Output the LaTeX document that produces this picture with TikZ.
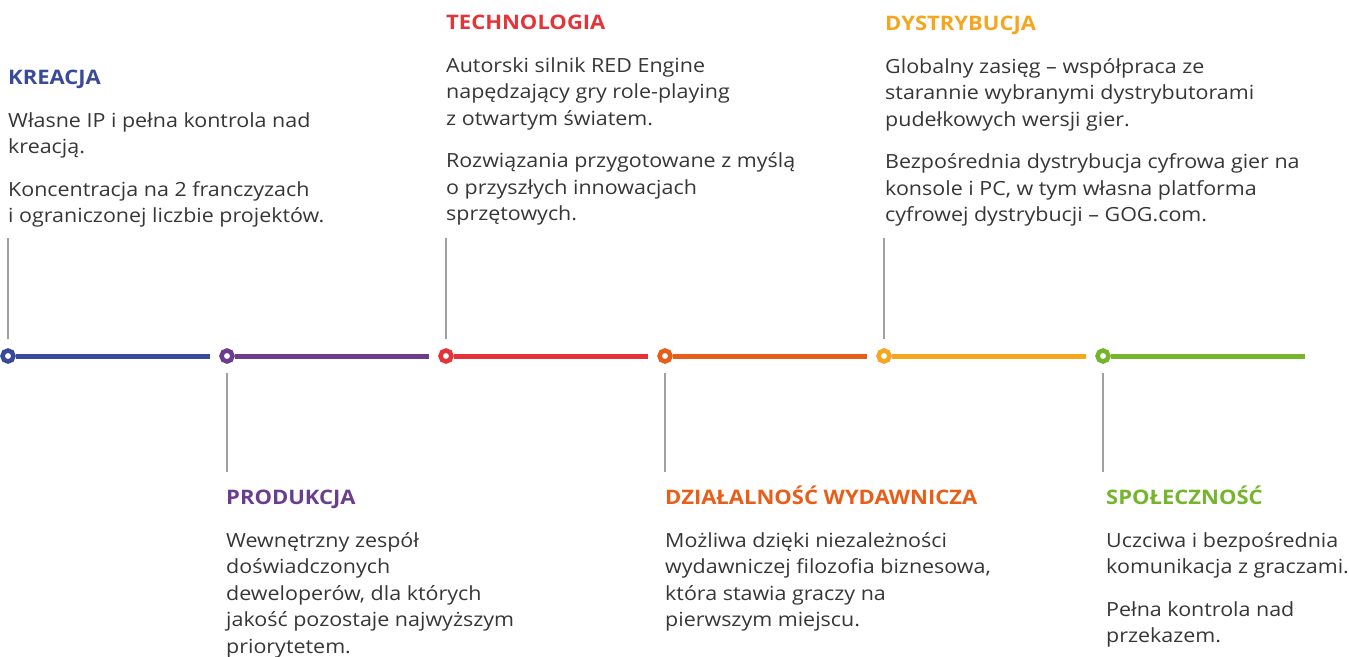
\documentclass[tikz,border=0pt]{standalone}
\usepackage{fontspec}
\setmainfont{Open Sans}[FakeStretch=1.1]
\usetikzlibrary{positioning}
\definecolor{kblue}{HTML}{3A4A9A}
\definecolor{kpurple}{HTML}{6A3D8E}
\definecolor{kred}{HTML}{E63338}
\definecolor{korange}{HTML}{E85D17}
\definecolor{kyellow}{HTML}{F5A61E}
\definecolor{kgreen}{HTML}{74B52C}
\definecolor{linegray}{HTML}{A0A0A0}
\definecolor{textgray}{HTML}{363636}
\tikzstyle{dot} = [circle, draw=#1, fill=white, line width=4.5pt, minimum size=11pt, inner sep=0pt]
\tikzstyle{seg} = [draw=#1, line width=5pt, shorten >=9pt]
\tikzstyle{stem} = [draw=linegray, line width=1.2pt]
\tikzstyle{head} = [text=#1, font=\fontsize{20}{26.5}\selectfont\bfseries, inner sep=0pt, anchor=base west]
\tikzstyle{body} = [text=textgray, font=\fontsize{19.5}{26.5}\selectfont, align=left, inner sep=0pt]

\begin{document}
\begin{tikzpicture}[x=1pt, y=-1pt, node distance=219pt]
\useasboundingbox (0,0) rectangle (1349,656);
\coordinate (stemtop) at (0,238);
\coordinate (stembot) at (0,472);
\coordinate (tlend) at (1305,356);

% timeline
\node (kreacja) [dot=kblue] at (8,356) {};
\node (produkcja) [dot=kpurple, right of=kreacja] {};
\node (technologia) [dot=kred, right of=produkcja] {};
\node (wydawnictwo) [dot=korange, right of=technologia] {};
\node (dystrybucja) [dot=kyellow, right of=wydawnictwo] {};
\node (spolecznosc) [dot=kgreen, right of=dystrybucja] {};

\draw [seg=kblue] (kreacja) -- (produkcja);
\draw [seg=kpurple] (produkcja) -- (technologia);
\draw [seg=kred] (technologia) -- (wydawnictwo);
\draw [seg=korange] (wydawnictwo) -- (dystrybucja);
\draw [seg=kyellow] (dystrybucja) -- (spolecznosc);
\draw [seg=kgreen, shorten >=0pt] (spolecznosc) -- (tlend);

\draw [stem, shorten <=9.5pt] (kreacja) -- (kreacja |- stemtop);
\draw [stem, shorten <=9.5pt] (technologia) -- (technologia |- stemtop);
\draw [stem, shorten <=9.5pt] (dystrybucja) -- (dystrybucja |- stemtop);
\draw [stem, shorten <=9.5pt] (produkcja) -- (produkcja |- stembot);
\draw [stem, shorten <=9.5pt] (wydawnictwo) -- (wydawnictwo |- stembot);
\draw [stem, shorten <=9.5pt] (spolecznosc) -- (spolecznosc |- stembot);

% top texts
\node (kreacjahead) [head=kblue] at (8,84) {KREACJA};
\node (kreacjatxt) [body, below right=24.5pt and 0pt of kreacjahead.base west]
  {\strut Własne IP i pełna kontrola nad\\ kreacją.\\[16pt]
   Koncentracja na 2 franczyzach\\ i ograniczonej liczbie projektów.};

\node (technologiahead) [head=kred] at (446,29) {TECHNOLOGIA};
\node (technologiatxt) [body, below right=24.5pt and 0pt of technologiahead.base west]
  {\strut Autorski silnik RED Engine\\ napędzający gry role-playing\\ z otwartym światem.\\[16pt]
   Rozwiązania przygotowane z myślą\\ o przyszłych innowacjach\\ sprzętowych.};

\node (dystrybucjahead) [head=kyellow] at (885,30) {DYSTRYBUCJA};
\node (dystrybucjatxt) [body, below right=24.5pt and 0pt of dystrybucjahead.base west]
  {\strut Globalny zasięg – współpraca ze\\ starannie wybranymi dystrybutorami\\ pudełkowych wersji gier.\\[16pt]
   Bezpośrednia dystrybucja cyfrowa gier na\\ konsole i PC, w tym własna platforma\\ cyfrowej dystrybucji – GOG.com.};

% bottom texts
\node (produkcjahead) [head=kpurple] at (226,504) {PRODUKCJA};
\node (produkcjatxt) [body, below right=24.5pt and 0pt of produkcjahead.base west]
  {\strut Wewnętrzny zespół\\ doświadczonych\\ deweloperów, dla których\\ jakość pozostaje najwyższym\\ priorytetem.};

\node (wydawnictwohead) [head=korange] at (665,504) {DZIAŁALNOŚĆ WYDAWNICZA};
\node (wydawnictwotxt) [body, below right=24.5pt and 0pt of wydawnictwohead.base west]
  {\strut Możliwa dzięki niezależności\\ wydawniczej filozofia biznesowa,\\ która stawia graczy na\\ pierwszym miejscu.};

\node (spolecznoschead) [head=kgreen] at (1106,504) {SPOŁECZNOŚĆ};
\node (spolecznosctxt) [body, below right=24.5pt and 0pt of spolecznoschead.base west]
  {\strut Uczciwa i bezpośrednia\\ komunikacja z graczami.\\[16pt]
   Pełna kontrola nad\\ przekazem.};
\end{tikzpicture}
\end{document}
